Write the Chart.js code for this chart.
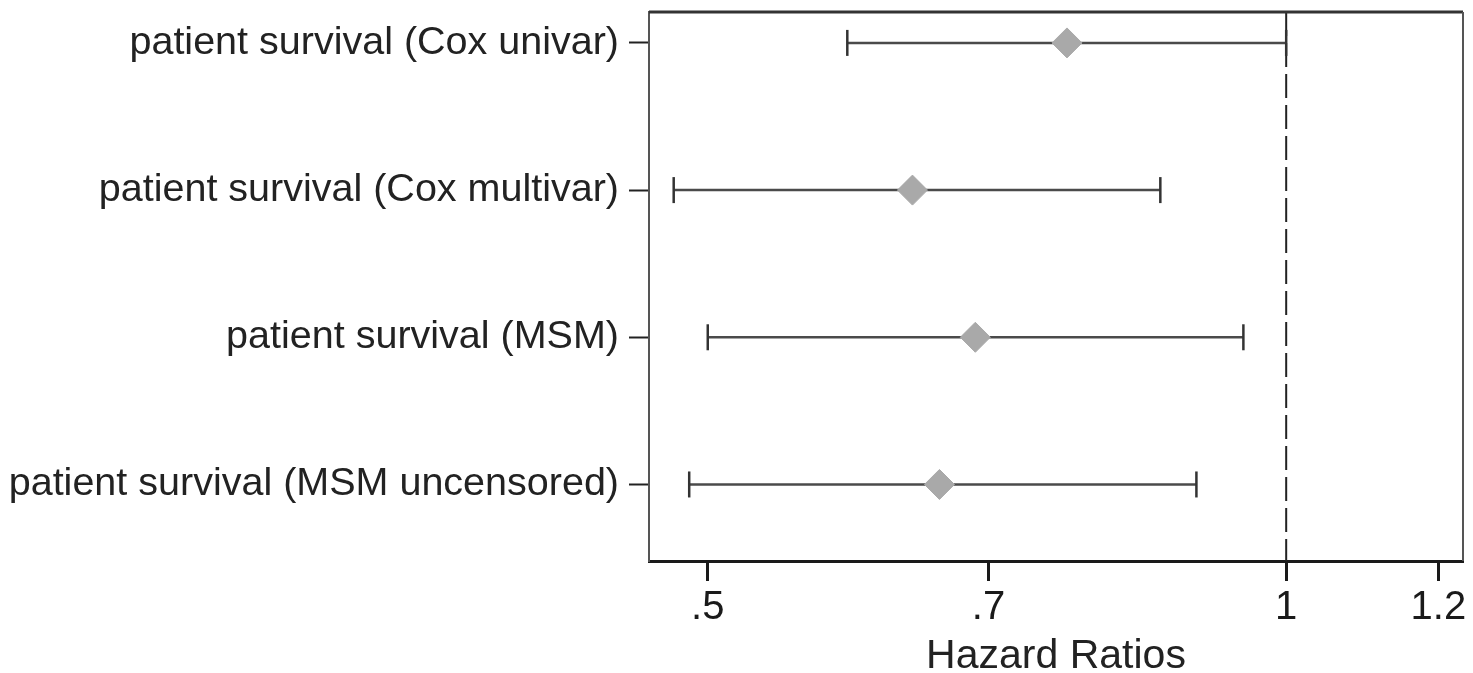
<!DOCTYPE html>
<html>
<head>
<meta charset="utf-8">
<title>Hazard Ratios</title>
<script src="https://cdn.jsdelivr.net/npm/chart.js@4"></script>
<style>
  html, body { margin: 0; padding: 0; background: #fff; }
  #wrap { width: 1473px; height: 673px; position: relative; }
</style>
</head>
<body>
<div id="wrap"><canvas id="chart"></canvas></div>
<script>
// forest plot rows, top to bottom
const rowLabels = [
  'patient survival (Cox univar)',
  'patient survival (Cox multivar)',
  'patient survival (MSM)',
  'patient survival (MSM uncensored)'
];
const hrEstimate = [0.769, 0.639, 0.689, 0.660];
const ciLower = [0.591, 0.480, 0.500, 0.489];
const ciUpper = [1.000, 0.860, 0.950, 0.898];

const xTicks = [0.5, 0.7, 1, 1.2];
const xTickLabels = ['.5', '.7', '1', '1.2'];
const xMin = 0.466, xMax = 1.236;
const yMin = 0.79, yMax = 4.52;
const nullLine = 1;

const FONT = "'Liberation Sans', Arial, sans-serif";

const datasets = [];

// point estimates (first so they sit on top of the whiskers)
datasets.push({
  data: hrEstimate.map((v, i) => ({ x: v, y: i + 1 })),
  pointStyle: 'rectRot',
  pointRadius: 15,
  backgroundColor: '#a9a9a9',
  borderColor: '#a9a9a9',
  borderWidth: 1,
  showLine: false
});

// confidence intervals with end caps
rowLabels.forEach((_, i) => {
  datasets.push({
    data: [{ x: ciLower[i], y: i + 1 }, { x: ciUpper[i], y: i + 1 }],
    showLine: true,
    borderColor: '#4a4a4a',
    borderWidth: 2.5,
    pointStyle: 'line',
    rotation: 90,
    pointRadius: 13,
    pointBorderColor: '#333',
    pointBorderWidth: 2.5
  });
});

// reference line at HR = 1
datasets.push({
  data: [{ x: nullLine, y: yMin }, { x: nullLine, y: yMax }],
  showLine: true,
  borderColor: '#222',
  borderWidth: 2,
  borderDash: [24, 7],
  pointRadius: 0
});

// top and right edges of the plot box
const frame = {
  id: 'frame',
  afterDraw(chart) {
    const { ctx, chartArea: a } = chart;
    ctx.save();
    ctx.lineWidth = 3;
    ctx.strokeStyle = '#333';
    ctx.beginPath();
    ctx.moveTo(a.left, a.top);
    ctx.lineTo(a.right, a.top);
    ctx.stroke();
    ctx.lineWidth = 2;
    ctx.strokeStyle = '#555';
    ctx.beginPath();
    ctx.moveTo(a.right, a.top);
    ctx.lineTo(a.right, a.bottom);
    ctx.stroke();
    ctx.restore();
  }
};

new Chart(document.getElementById('chart'), {
  type: 'scatter',
  data: { datasets },
  plugins: [frame],
  options: {
    responsive: true,
    maintainAspectRatio: false,
    animation: false,
    layout: { autoPadding: false, padding: { top: 12, right: 10, left: 0, bottom: 0 } },
    plugins: { legend: { display: false }, tooltip: { enabled: false } },
    scales: {
      x: {
        type: 'logarithmic',
        min: xMin,
        max: xMax,
        afterBuildTicks: s => { s.ticks = xTicks.map(v => ({ value: v })); },
        afterFit: s => { s.height = 112; s.paddingLeft = 0; s.paddingRight = 0; },
        grid: { drawOnChartArea: false, tickLength: 20, tickWidth: 3, tickColor: '#1a1a1a' },
        border: { color: '#1a1a1a', width: 3 },
        ticks: {
          autoSkip: false,
          maxRotation: 0,
          padding: 3,
          color: '#1a1a1a',
          font: { family: FONT, size: 40 },
          callback: v => xTickLabels[xTicks.indexOf(v)] ?? ''
        },
        title: {
          display: true,
          text: 'Hazard Ratios',
          color: '#222',
          font: { family: FONT, size: 41 },
          padding: { top: 0, bottom: -8 }
        }
      },
      y: {
        type: 'linear',
        reverse: true,
        min: yMin,
        max: yMax,
        afterBuildTicks: s => { s.ticks = rowLabels.map((_, i) => ({ value: i + 1 })); },
        afterFit: s => { s.width = 649; s.paddingTop = 0; s.paddingBottom = 0; },
        grid: { drawOnChartArea: false, tickLength: 20, tickWidth: 2, tickColor: '#222' },
        border: { color: '#555', width: 2 },
        ticks: {
          autoSkip: false,
          padding: 10,
          color: '#222',
          font: { family: FONT, size: 39.5 },
          callback: v => rowLabels[v - 1] ?? ''
        }
      }
    }
  }
});
</script>
</body>
</html>
